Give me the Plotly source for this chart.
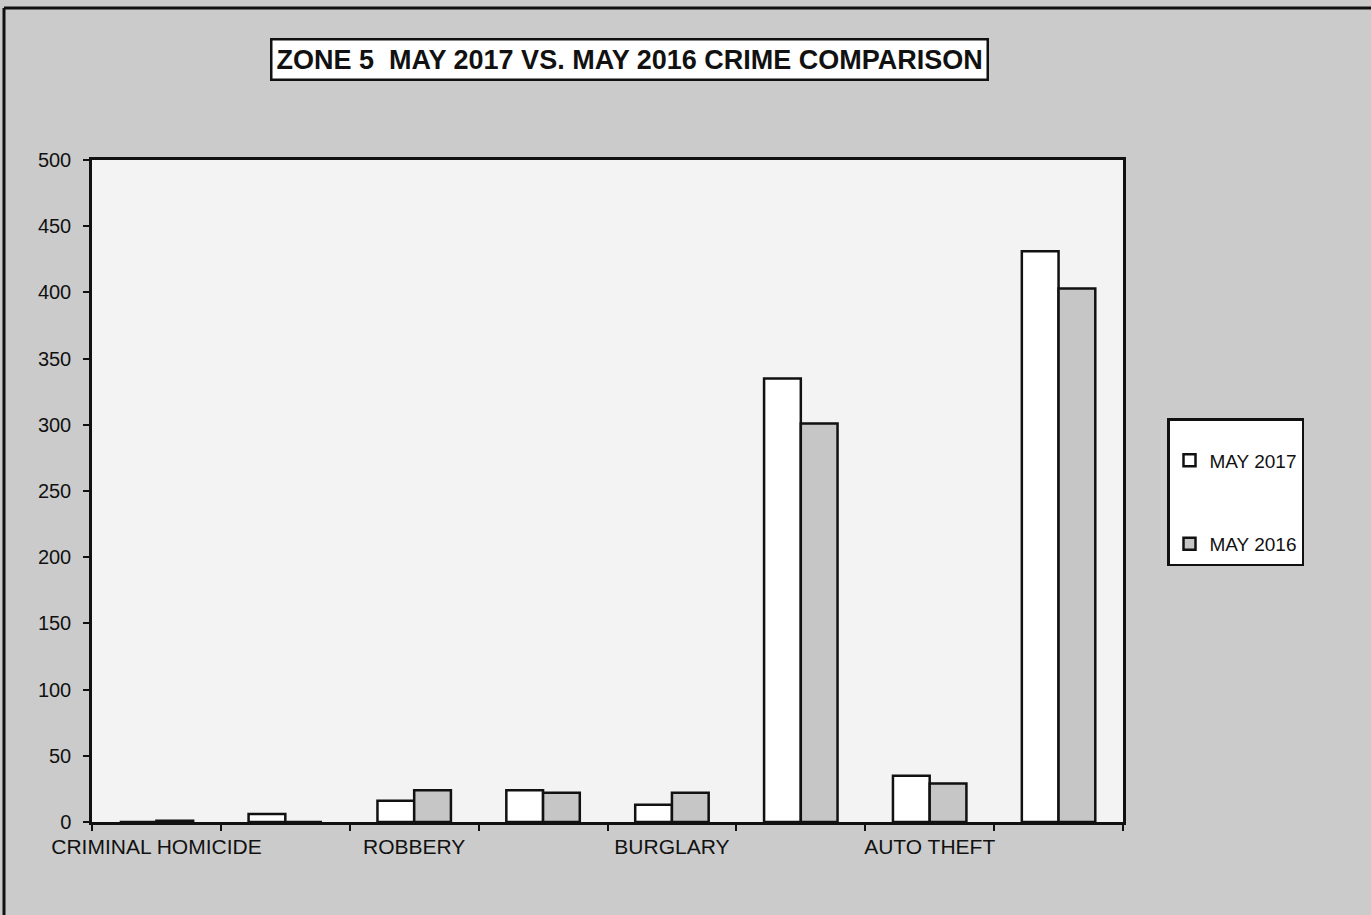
import plotly.graph_objects as go

categories = ["CRIMINAL HOMICIDE", "RAPE", "ROBBERY", "AGG. ASSAULT",
              "BURGLARY", "THEFT", "AUTO THEFT", "TOTAL"]
shown_labels = ["CRIMINAL HOMICIDE", "", "ROBBERY", "", "BURGLARY", "", "AUTO THEFT", ""]
may_2017 = [0, 6, 16, 24, 13, 335, 35, 431]
may_2016 = [1, 0, 24, 22, 22, 301, 29, 403]
y_ticks = [0, 50, 100, 150, 200, 250, 300, 350, 400, 450, 500]

W, H = 1371, 915
L, R, T, B = 92, 1123, 160, 822

def px(x):
    return (x - L) / (R - L)

def py(y):
    return (B - y) / (B - T)

font = "Liberation Sans, Arial, sans-serif"

fig = go.Figure()
fig.add_trace(go.Bar(
    x=categories, y=may_2017, name="MAY 2017", legendgroup="a",
    marker=dict(color="#ffffff", line=dict(color="#111111", width=2.5)),
))
fig.add_trace(go.Bar(
    x=categories, y=may_2016, name="MAY 2016", legendgroup="b",
    marker=dict(color="#c6c6c6", line=dict(color="#111111", width=2.5)),
))

fig.update_layout(
    width=W, height=H,
    margin=dict(l=L, r=W - R, t=T, b=H - B, pad=0, autoexpand=False),
    paper_bgcolor="#cbcbcb",
    plot_bgcolor="#f3f3f3",
    barmode="group", bargap=0.43, bargroupgap=0,
    font=dict(family=font, size=19, color="#111111"),
    showlegend=True,
    legend=dict(
        x=px(1167), y=py(418), xanchor="left", yanchor="top",
        bgcolor="#ffffff", bordercolor="#111111", borderwidth=2.5,
        font=dict(family=font, size=19, color="#111111"),
        tracegroupgap=56, traceorder="grouped",
        title=dict(text=" ", font=dict(size=16)),
    ),
    xaxis=dict(
        type="category", tickmode="array", tickvals=categories, ticktext=shown_labels,
        tickson="boundaries", ticks="outside", ticklen=6, tickwidth=1.5, tickcolor="#111111",
        tickangle=0, automargin=False, ticklabelstandoff=4,
        showline=True, linecolor="#111111", linewidth=2.5, mirror=True,
        showgrid=False, zeroline=False, tickfont=dict(size=21),
    ),
    yaxis=dict(
        range=[0, 500], tickmode="array", tickvals=y_ticks,
        ticks="outside", ticklen=6, tickwidth=1.5, tickcolor="#111111",
        ticklabelstandoff=8, automargin=False,
        showline=True, linecolor="#111111", linewidth=2.5, mirror=True,
        showgrid=False, zeroline=False, tickfont=dict(size=20),
    ),
    annotations=[dict(
        text="<b>ZONE 5  MAY 2017 VS. MAY 2016 CRIME COMPARISON</b>",
        xref="paper", yref="paper", x=px(629), y=py(59),
        xanchor="center", yanchor="middle", showarrow=False,
        font=dict(family=font, size=27, color="#111111"),
        bgcolor="#ffffff", bordercolor="#111111", borderwidth=2.5, borderpad=4,
    )],
    shapes=[
        dict(type="line", xref="paper", yref="paper", x0=px(4), x1=px(4), y0=py(915), y1=py(8),
             line=dict(color="#111111", width=3)),
        dict(type="line", xref="paper", yref="paper", x0=px(4), x1=px(1371), y0=py(8), y1=py(8),
             line=dict(color="#111111", width=3)),
    ],
)

fig.write_html("out.html", config={"displayModeBar": False},
               post_script="document.body.style.margin='0px';")
